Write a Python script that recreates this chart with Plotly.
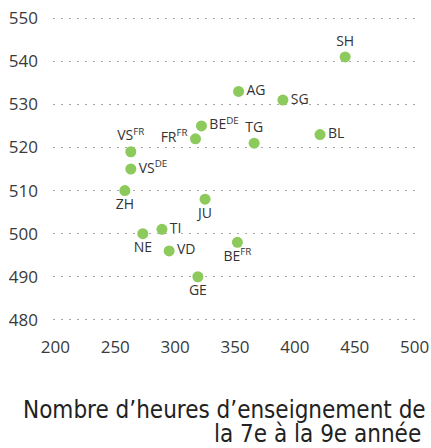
import plotly.graph_objects as go

cantons = ["SH", "AG", "SG", "BE<sup>DE</sup>", "FR<sup>FR</sup>", "TG", "BL", "VS<sup>FR</sup>",
           "VS<sup>DE</sup>", "ZH", "JU", "TI", "NE", "VD", "BE<sup>FR</sup>", "GE"]
heures = [442, 353, 390, 322, 317, 366, 421, 263,
          263, 258, 325, 289, 273, 295, 352, 319]
scores = [541, 533, 531, 525, 522, 521, 523, 519,
          515, 510, 508, 501, 500, 496, 498, 490]
label_pos = ["top center", "middle right", "middle right", "middle right", "middle left",
             "top center", "middle right", "top center", "middle right", "bottom center",
             "bottom center", "middle right", "bottom center", "middle right", "bottom center",
             "bottom center"]
x_ticks = [200, 250, 300, 350, 400, 450, 500]
y_ticks = [480, 490, 500, 510, 520, 530, 540, 550]
title_lines = ["Nombre d’heures d’enseignement de", "la 7e à la 9e année"]

fig = go.Figure(go.Scatter(
    x=heures, y=scores, mode="markers+text", text=cantons,
    textposition=label_pos, cliponaxis=False,
    marker=dict(color="#8cca5c", size=11),
    textfont=dict(family="Open Sans", size=14, color="#333333"),
))

title_font = dict(family="DejaVu Sans Condensed", size=24, color="#222222")
fig.update_layout(
    width=431, height=448,
    margin=dict(l=53, r=14, t=16, b=126, autoexpand=False),
    plot_bgcolor="white", paper_bgcolor="white",
    showlegend=False,
    xaxis=dict(range=[198, 502], tickvals=x_ticks, showgrid=False, zeroline=False,
               showline=False, ticks="", ticklabelstandoff=13, automargin=False,
               tickfont=dict(family="Open Sans", size=17, color="#3a3a3a")),
    yaxis=dict(range=[479.5, 550.5], tickvals=y_ticks, showgrid=True, gridcolor="#aaaaaa",
               griddash="2px,6px", gridwidth=1, zeroline=False, showline=False, ticks="",
               ticklabelstandoff=14, automargin=False,
               tickfont=dict(family="Open Sans", size=17, color="#3a3a3a")),
    annotations=[
        dict(text=title_lines[0], xref="paper", yref="paper", x=1.03, y=-0.289,
             xanchor="right", yanchor="middle", align="right", showarrow=False,
             font=title_font),
        dict(text=title_lines[1], xref="paper", yref="paper", x=1.016, y=-0.367,
             xanchor="right", yanchor="middle", align="right", showarrow=False,
             font=title_font),
    ],
)

fig.write_html("out.html", config={"displayModeBar": False},
               post_script="document.body.style.margin='0';")
